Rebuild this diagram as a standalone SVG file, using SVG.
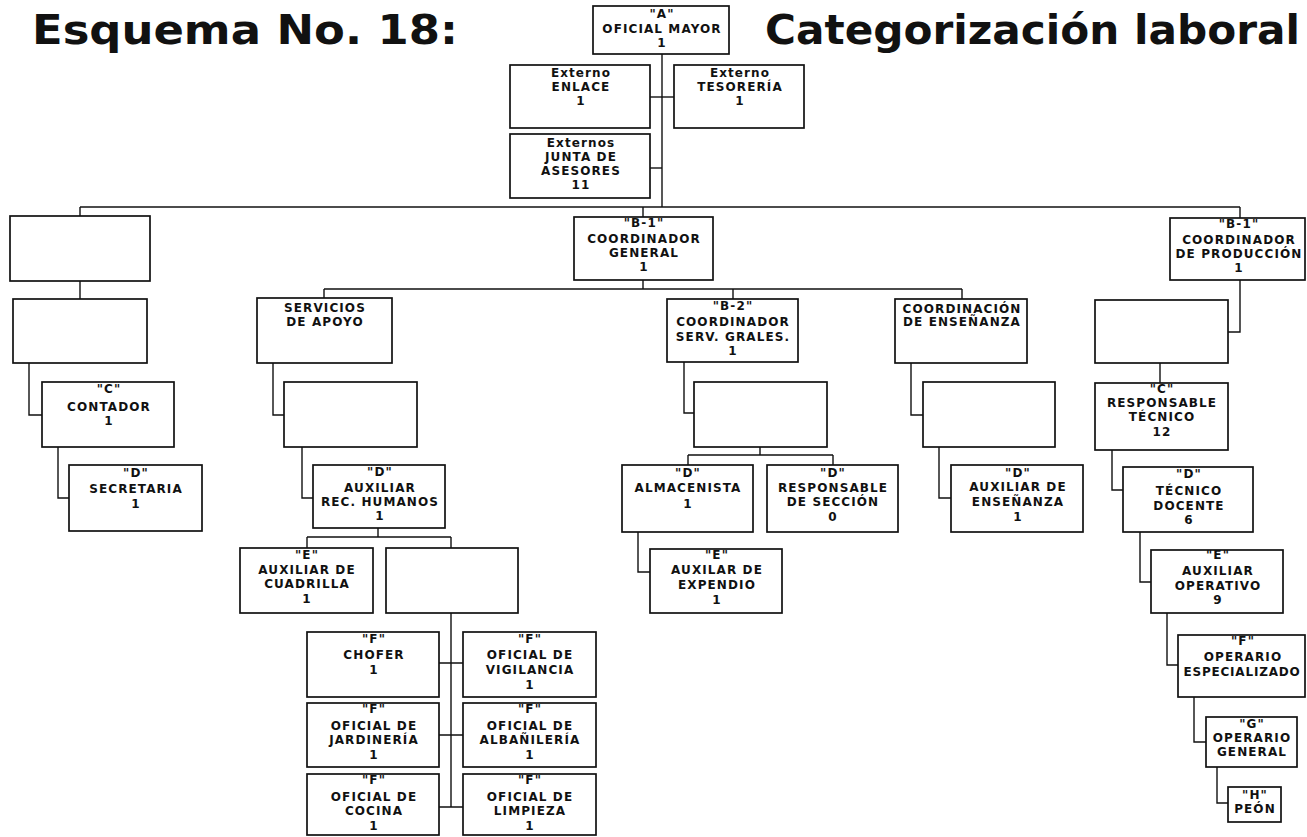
<svg xmlns="http://www.w3.org/2000/svg" width="1307" height="837" viewBox="0 0 1307 837">
<style>
.bg{fill:#fff}
.box{fill:#fff;stroke:#111;stroke-width:1.7}
.c path{fill:none;stroke:#111;stroke-width:1.4}
.t{font-family:"DejaVu Sans","Liberation Sans",sans-serif;font-weight:bold;font-size:12px;letter-spacing:1.1px;fill:#111;text-anchor:middle}
.title{font-family:"DejaVu Sans","Liberation Sans",sans-serif;font-weight:bold;font-size:41px;fill:#111}
</style>
<rect class="bg" x="0" y="0" width="1307" height="837"/>
<text class="title" x="32" y="44" textLength="426" lengthAdjust="spacingAndGlyphs">Esquema No. 18:</text>
<text class="title" x="765" y="44" textLength="535" lengthAdjust="spacingAndGlyphs">Categorización laboral</text>

<g class="c" id="connectors">
<path d="M662 54V207"/>
<path d="M650 97H674"/>
<path d="M650 168H662"/>
<path d="M80 207H1240"/>
<path d="M80 207V216M643 207V217M1240 207V218"/>
<path d="M80 281V299"/>
<path d="M29 363V415H42"/>
<path d="M58 447V498H69"/>
<path d="M643 280V289M324 289H962M324 289V298M733 289V299M962 289V299"/>
<path d="M273 363V415H284"/>
<path d="M302 447V498H313"/>
<path d="M378 528V537M307 537H451M307 537V548M451 537V548"/>
<path d="M451 613V807M439 663H463M439 735H463M439 807H463"/>
<path d="M684 362V413H694"/>
<path d="M760 447V455M688 455H833M688 455V465M833 455V465"/>
<path d="M638 532V572H650"/>
<path d="M911 363V415H923"/>
<path d="M939 447V498H951"/>
<path d="M1240 280V332H1228"/>
<path d="M1160 363V383"/>
<path d="M1112 450V490H1123"/>
<path d="M1140 532V582H1151"/>
<path d="M1167 613V665H1178"/>
<path d="M1194 697V742H1206"/>
<path d="M1217 767V803H1228"/>
</g>

<g id="n-oficial-mayor"><rect class="box" x="593" y="6" width="136" height="48"/>
<text class="t"><tspan x="662" y="18">"A"</tspan><tspan x="662" y="33">OFICIAL MAYOR</tspan><tspan x="662" y="47">1</tspan></text></g>
<g id="n-enlace"><rect class="box" x="510" y="65" width="140" height="63"/>
<text class="t"><tspan x="581" y="77">Externo</tspan><tspan x="581" y="91">ENLACE</tspan><tspan x="581" y="105">1</tspan></text></g>
<g id="n-tesoreria"><rect class="box" x="674" y="65" width="130" height="63"/>
<text class="t"><tspan x="740" y="77">Externo</tspan><tspan x="740" y="91">TESORERÍA</tspan><tspan x="740" y="105">1</tspan></text></g>
<g id="n-junta"><rect class="box" x="510" y="134" width="140" height="64"/>
<text class="t"><tspan x="581" y="147">Externos</tspan><tspan x="581" y="161">JUNTA DE</tspan><tspan x="581" y="175">ASESORES</tspan><tspan x="581" y="189">11</tspan></text></g>

<g id="n-left-empty1"><rect class="box" x="10" y="216" width="140" height="65"/></g>
<g id="n-left-empty2"><rect class="box" x="13" y="299" width="134" height="64"/></g>
<g id="n-contador"><rect class="box" x="42" y="382" width="132" height="65"/>
<text class="t"><tspan x="109" y="393">"C"</tspan><tspan x="109" y="411">CONTADOR</tspan><tspan x="109" y="425">1</tspan></text></g>
<g id="n-secretaria"><rect class="box" x="69" y="465" width="133" height="66"/>
<text class="t"><tspan x="136" y="477">"D"</tspan><tspan x="136" y="493">SECRETARIA</tspan><tspan x="136" y="508">1</tspan></text></g>

<g id="n-coord-general"><rect class="box" x="574" y="217" width="139" height="63"/>
<text class="t"><tspan x="644" y="227">"B-1"</tspan><tspan x="644" y="243">COORDINADOR</tspan><tspan x="644" y="257">GENERAL</tspan><tspan x="644" y="271">1</tspan></text></g>

<g id="n-servicios"><rect class="box" x="257" y="298" width="135" height="65"/>
<text class="t"><tspan x="325" y="312">SERVICIOS</tspan><tspan x="325" y="326">DE APOYO</tspan></text></g>
<g id="n-serv-empty"><rect class="box" x="284" y="382" width="133" height="65"/></g>
<g id="n-aux-rh"><rect class="box" x="313" y="465" width="132" height="63"/>
<text class="t"><tspan x="380" y="476">"D"</tspan><tspan x="380" y="492">AUXILIAR</tspan><tspan x="380" y="506">REC. HUMANOS</tspan><tspan x="380" y="520">1</tspan></text></g>
<g id="n-cuadrilla"><rect class="box" x="240" y="548" width="133" height="65"/>
<text class="t"><tspan x="307" y="559">"E"</tspan><tspan x="307" y="574">AUXILIAR DE</tspan><tspan x="307" y="588">CUADRILLA</tspan><tspan x="307" y="603">1</tspan></text></g>
<g id="n-rh-empty"><rect class="box" x="386" y="548" width="132" height="65"/></g>
<g id="n-chofer"><rect class="box" x="307" y="632" width="132" height="65"/>
<text class="t"><tspan x="374" y="643">"F"</tspan><tspan x="374" y="659">CHOFER</tspan><tspan x="374" y="674">1</tspan></text></g>
<g id="n-jardineria"><rect class="box" x="307" y="703" width="132" height="64"/>
<text class="t"><tspan x="374" y="713">"F"</tspan><tspan x="374" y="730">OFICIAL DE</tspan><tspan x="374" y="744">JARDINERÍA</tspan><tspan x="374" y="759">1</tspan></text></g>
<g id="n-cocina"><rect class="box" x="307" y="774" width="132" height="61"/>
<text class="t"><tspan x="374" y="784">"F"</tspan><tspan x="374" y="801">OFICIAL DE</tspan><tspan x="374" y="815">COCINA</tspan><tspan x="374" y="830">1</tspan></text></g>
<g id="n-vigilancia"><rect class="box" x="463" y="632" width="133" height="65"/>
<text class="t"><tspan x="530" y="643">"F"</tspan><tspan x="530" y="659">OFICIAL DE</tspan><tspan x="530" y="674">VIGILANCIA</tspan><tspan x="530" y="689">1</tspan></text></g>
<g id="n-albanileria"><rect class="box" x="463" y="703" width="133" height="64"/>
<text class="t"><tspan x="530" y="713">"F"</tspan><tspan x="530" y="730">OFICIAL DE</tspan><tspan x="530" y="744">ALBAÑILERÍA</tspan><tspan x="530" y="759">1</tspan></text></g>
<g id="n-limpieza"><rect class="box" x="463" y="774" width="133" height="61"/>
<text class="t"><tspan x="530" y="784">"F"</tspan><tspan x="530" y="801">OFICIAL DE</tspan><tspan x="530" y="815">LIMPIEZA</tspan><tspan x="530" y="830">1</tspan></text></g>

<g id="n-b2"><rect class="box" x="667" y="299" width="131" height="63"/>
<text class="t"><tspan x="733" y="310">"B-2"</tspan><tspan x="733" y="326">COORDINADOR</tspan><tspan x="733" y="341">SERV. GRALES.</tspan><tspan x="733" y="355">1</tspan></text></g>
<g id="n-b2-empty"><rect class="box" x="694" y="382" width="133" height="65"/></g>
<g id="n-almacenista"><rect class="box" x="622" y="465" width="131" height="67"/>
<text class="t"><tspan x="688" y="477">"D"</tspan><tspan x="688" y="492">ALMACENISTA</tspan><tspan x="688" y="508">1</tspan></text></g>
<g id="n-resp-seccion"><rect class="box" x="767" y="465" width="131" height="67"/>
<text class="t"><tspan x="833" y="477">"D"</tspan><tspan x="833" y="492">RESPONSABLE</tspan><tspan x="833" y="506">DE SECCIÓN</tspan><tspan x="833" y="521">0</tspan></text></g>
<g id="n-expendio"><rect class="box" x="650" y="549" width="132" height="64"/>
<text class="t"><tspan x="717" y="559">"E"</tspan><tspan x="717" y="574">AUXILAR DE</tspan><tspan x="717" y="589">EXPENDIO</tspan><tspan x="717" y="604">1</tspan></text></g>

<g id="n-coord-ens"><rect class="box" x="895" y="299" width="132" height="64"/>
<text class="t"><tspan x="962" y="313">COORDINACIÓN</tspan><tspan x="962" y="326">DE ENSEÑANZA</tspan></text></g>
<g id="n-ens-empty"><rect class="box" x="923" y="382" width="132" height="65"/></g>
<g id="n-aux-ens"><rect class="box" x="951" y="465" width="132" height="67"/>
<text class="t"><tspan x="1018" y="477">"D"</tspan><tspan x="1018" y="491">AUXILIAR DE</tspan><tspan x="1018" y="506">ENSEÑANZA</tspan><tspan x="1018" y="521">1</tspan></text></g>

<g id="n-coord-prod"><rect class="box" x="1170" y="218" width="135" height="62"/>
<text class="t"><tspan x="1239" y="228">"B-1"</tspan><tspan x="1239" y="244">COORDINADOR</tspan><tspan x="1239" y="258">DE PRODUCCIÓN</tspan><tspan x="1239" y="272">1</tspan></text></g>
<g id="n-prod-empty"><rect class="box" x="1095" y="300" width="133" height="63"/></g>
<g id="n-resp-tec"><rect class="box" x="1095" y="383" width="133" height="67"/>
<text class="t"><tspan x="1162" y="393">"C"</tspan><tspan x="1162" y="407">RESPONSABLE</tspan><tspan x="1162" y="421">TÉCNICO</tspan><tspan x="1162" y="436">12</tspan></text></g>
<g id="n-tec-doc"><rect class="box" x="1123" y="467" width="130" height="65"/>
<text class="t"><tspan x="1189" y="478">"D"</tspan><tspan x="1189" y="495">TÉCNICO</tspan><tspan x="1189" y="510">DOCENTE</tspan><tspan x="1189" y="524">6</tspan></text></g>
<g id="n-aux-oper"><rect class="box" x="1151" y="550" width="132" height="63"/>
<text class="t"><tspan x="1218" y="559">"E"</tspan><tspan x="1218" y="575">AUXILIAR</tspan><tspan x="1218" y="590">OPERATIVO</tspan><tspan x="1218" y="604">9</tspan></text></g>
<g id="n-op-esp"><rect class="box" x="1178" y="635" width="127" height="62"/>
<text class="t"><tspan x="1243" y="645">"F"</tspan><tspan x="1243" y="661">OPERARIO</tspan><tspan x="1242" y="676" style="letter-spacing:0.8px">ESPECIALIZADO</tspan></text></g>
<g id="n-op-gen"><rect class="box" x="1206" y="717" width="91" height="50"/>
<text class="t"><tspan x="1252" y="728">"G"</tspan><tspan x="1252" y="742">OPERARIO</tspan><tspan x="1252" y="756">GENERAL</tspan></text></g>
<g id="n-peon"><rect class="box" x="1228" y="787" width="53" height="35"/>
<text class="t"><tspan x="1255" y="799">"H"</tspan><tspan x="1255" y="813">PEÓN</tspan></text></g>
</svg>
